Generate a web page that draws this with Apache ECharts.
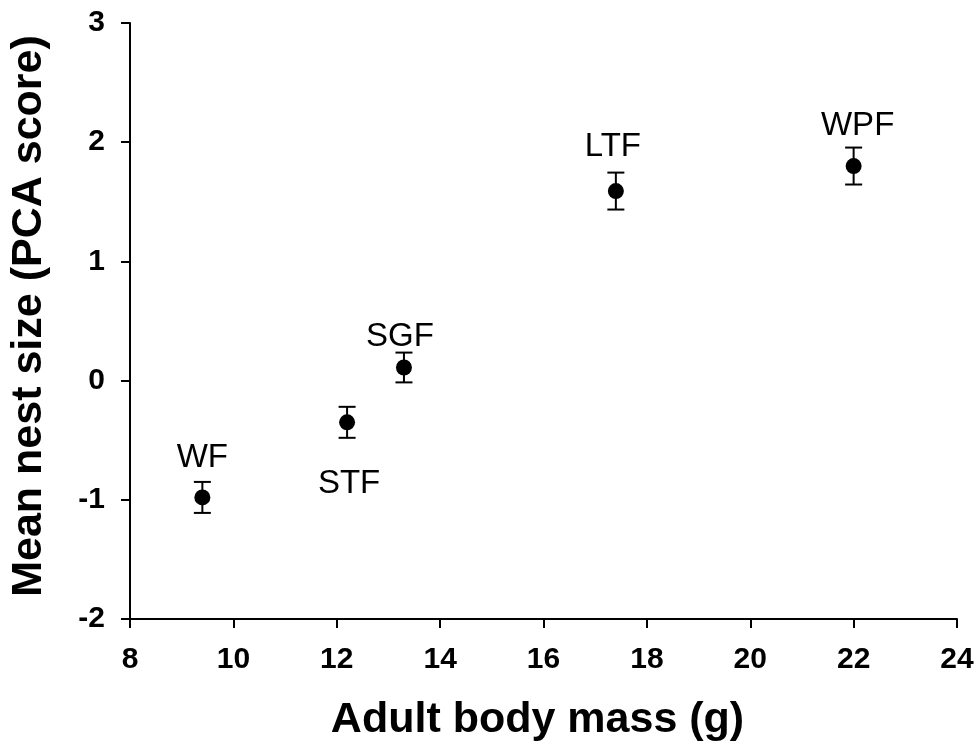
<!DOCTYPE html>
<html>
<head>
<meta charset="utf-8">
<script src="https://cdn.jsdelivr.net/npm/echarts@6/dist/echarts.min.js"></script>
<style>html,body{margin:0;padding:0;background:#fff;}#c{width:980px;height:751px;}</style>
</head>
<body>
<div id="c"></div>
<script>
var names = ['WF', 'STF', 'SGF', 'LTF', 'WPF'];
var bodyMass = [9.4, 12.2, 13.3, 17.4, 22.0];
var nestScore = [-0.98, -0.35, 0.11, 1.59, 1.80];
var stdErr = [0.13, 0.13, 0.125, 0.155, 0.155];

var labelStyle = {
  WF: {position: 'top', distance: 15, offset: [0, 0]},
  STF: {position: 'bottom', distance: 37, offset: [2, 0]},
  SGF: {position: 'top', distance: 6, offset: [-4, 0]},
  LTF: {position: 'top', distance: 20, offset: [-3, 0]},
  WPF: {position: 'top', distance: 16, offset: [4, 0]}
};

var pts = names.map(function (n, i) {
  return {
    value: [bodyMass[i], nestScore[i]],
    label: {show: true, formatter: n, position: labelStyle[n].position,
      distance: labelStyle[n].distance, offset: labelStyle[n].offset}
  };
});
var errData = names.map(function (n, i) {
  return [bodyMass[i], nestScore[i] - stdErr[i], nestScore[i] + stdErr[i]];
});

var chart = echarts.init(document.getElementById('c'));
var axisText = {fontFamily: 'Liberation Sans, Arial, sans-serif', fontWeight: 'bold', fontSize: 30, color: '#000'};
chart.setOption({
  animation: false,
  backgroundColor: '#fff',
  grid: {left: 129, right: 23, top: 23, bottom: 132},
  xAxis: {
    type: 'value', min: 8, max: 24, interval: 2,
    name: 'Adult body mass (g)', nameLocation: 'middle', nameGap: 80,
    nameTextStyle: {fontFamily: 'Liberation Sans, Arial, sans-serif', fontWeight: 'bold', fontSize: 43, color: '#000', padding: [0, 12, 0, 0]},
    axisLine: {onZero: false, lineStyle: {color: '#000', width: 2}},
    axisTick: {show: true, inside: false, length: 9, lineStyle: {color: '#000', width: 2}},
    axisLabel: Object.assign({margin: 26}, axisText),
    splitLine: {show: false}
  },
  yAxis: {
    type: 'value', min: -2, max: 3, interval: 1,
    name: 'Mean nest size (PCA score)', nameLocation: 'middle', nameGap: 79,
    nameTextStyle: {fontFamily: 'Liberation Sans, Arial, sans-serif', fontWeight: 'bold', fontSize: 43, color: '#000', padding: [0, 0, 0, 10]},
    axisLine: {show: true, onZero: false, lineStyle: {color: '#000', width: 2}},
    axisTick: {show: true, inside: false, length: 9, lineStyle: {color: '#000', width: 2}},
    axisLabel: Object.assign({margin: 25}, axisText),
    splitLine: {show: false}
  },
  series: [
    {
      type: 'custom',
      data: errData,
      renderItem: function (params, api) {
        var x = api.value(0);
        var lo = api.coord([x, api.value(1)]);
        var hi = api.coord([x, api.value(2)]);
        var hw = 8.5;
        var st = {stroke: '#000', lineWidth: 2};
        return {
          type: 'group',
          children: [
            {type: 'line', shape: {x1: lo[0], y1: lo[1], x2: hi[0], y2: hi[1]}, style: st},
            {type: 'line', shape: {x1: lo[0] - hw, y1: lo[1], x2: lo[0] + hw, y2: lo[1]}, style: st},
            {type: 'line', shape: {x1: hi[0] - hw, y1: hi[1], x2: hi[0] + hw, y2: hi[1]}, style: st}
          ]
        };
      },
      z: 1
    },
    {
      type: 'scatter',
      data: pts,
      symbol: 'circle',
      symbolSize: 16,
      itemStyle: {color: '#000', opacity: 1},
      label: {color: '#000', opacity: 1, fontFamily: 'Liberation Sans, Arial, sans-serif', fontSize: 33},
      emphasis: {disabled: true},
      z: 2
    }
  ]
});
</script>
</body>
</html>
